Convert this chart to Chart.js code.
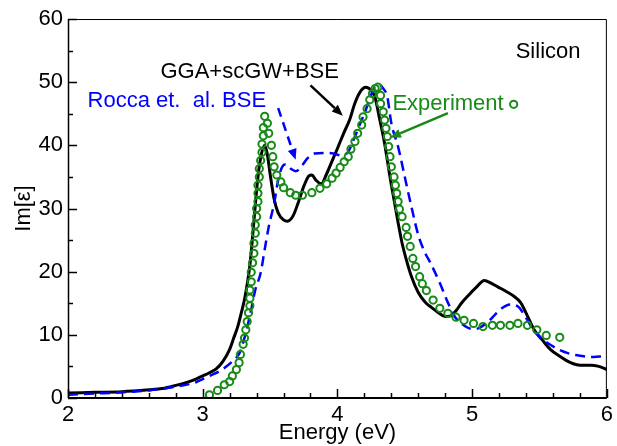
<!DOCTYPE html>
<html>
<head>
<meta charset="utf-8">
<script src="https://cdn.jsdelivr.net/npm/chart.js@4.4.0/dist/chart.umd.min.js"></script>
<style>
  html, body { margin: 0; padding: 0; background: #fff; }
  #wrap { width: 617px; height: 446px; }
</style>
</head>
<body>
<div id="wrap"><canvas id="chart"></canvas></div>
<script>
// GGA+scGW+BSE (黑色實線)
const gwEnergy = [2.0, 2.2, 2.4, 2.6, 2.7, 2.8, 2.9, 2.95, 3.0, 3.05,
    3.1, 3.15, 3.2, 3.23, 3.26, 3.29, 3.31, 3.33, 3.35, 3.37,
    3.39, 3.41, 3.43, 3.46, 3.48, 3.5, 3.53, 3.56, 3.6, 3.63,
    3.67, 3.71, 3.75, 3.79, 3.81, 3.84, 3.88, 3.92, 3.96, 4.0,
    4.05, 4.09, 4.13, 4.17, 4.21, 4.25, 4.28, 4.31, 4.35, 4.39,
    4.42, 4.45, 4.48, 4.51, 4.55, 4.6, 4.65, 4.7, 4.75, 4.8,
    4.84, 4.88, 4.92, 4.97, 5.03, 5.09, 5.14, 5.19, 5.25, 5.31,
    5.36, 5.41, 5.46, 5.52, 5.58, 5.65, 5.73, 5.8, 5.88, 5.94, 6.0];
const gwIm = [0.8, 0.9, 1.0, 1.3, 1.5, 2.0, 2.6, 3.0, 3.5, 4.0,
    4.6, 5.8, 7.7, 9.5, 11.3, 13.8, 15.6, 18, 21, 25.5,
    30.5, 35, 38, 40, 38.5, 35.5, 31.5, 29.3, 28.2, 28.0,
    28.8, 31, 33.5, 35.2, 35.3, 34.5, 33.9, 35.5, 37.5, 39.5,
    42.1, 44, 46.7, 48.5, 49.2, 48.7, 47.5, 44.5, 40.3, 35,
    31.4, 27.8, 24.5, 22, 19.2, 16.7, 15.2, 14.3, 13.5, 12.9,
    13.0, 13.8, 15, 16.2, 17.5, 18.6, 18.2, 17.6, 16.9, 16.1,
    15.1, 13, 10.8, 9.2, 7.7, 6.6, 5.6, 5.2, 5.2, 5.0, 4.5];

// Rocca et. al. BSE (藍色虛線)
const bseEnergy = [2.0, 2.2, 2.4, 2.6, 2.8, 2.9, 2.95, 3.0, 3.06, 3.12,
    3.17, 3.21, 3.25, 3.28, 3.3, 3.32, 3.36, 3.39, 3.43, 3.46,
    3.49, 3.53, 3.56, 3.59, 3.62, 3.66, 3.69, 3.73, 3.78, 3.83,
    3.9, 3.97, 4.03, 4.08, 4.13, 4.17, 4.21, 4.25, 4.28, 4.31,
    4.34, 4.37, 4.4, 4.45, 4.51, 4.55, 4.6, 4.65, 4.69, 4.76,
    4.82, 4.87, 4.92, 4.97, 5.02, 5.07, 5.12, 5.17, 5.22, 5.28,
    5.34, 5.4, 5.46, 5.51, 5.56, 5.63, 5.71, 5.77, 5.83, 5.9, 5.97];
const bseIm = [0.5, 0.7, 0.9, 1.2, 1.8, 2.2, 2.5, 3.0, 3.6, 4.2,
    4.9, 5.6, 6.4, 7.4, 8.8, 10.3, 14.0, 17.1, 19.8, 23.5,
    27.1, 30.8, 34.5, 36.6, 37, 36.2, 35.9, 36.6, 38.0, 38.7,
    38.8, 38.7, 38.4, 39, 41.4, 43.5, 45.6, 48.0, 49.3, 49.6,
    49.0, 47.7, 43.5, 39.8, 34, 30.2, 25.8, 23, 21.4, 18.2,
    15.1, 12.9, 11.8, 11.1, 10.9, 11.3, 12.1, 13.2, 14.2, 14.8,
    14.5, 12.7, 10.6, 9.5, 8.7, 7.8, 7.1, 6.8, 6.6, 6.5, 6.6];

// 實驗值 (綠色圓圈)
const expEnergy = [3.05, 3.11, 3.16, 3.20, 3.22, 3.25, 3.27, 3.28, 3.30, 3.31,
    3.32, 3.33, 3.34, 3.35, 3.35, 3.35, 3.36, 3.36, 3.37, 3.38,
    3.38, 3.39, 3.39, 3.40, 3.40, 3.41, 3.41, 3.41, 3.42, 3.42,
    3.43, 3.44, 3.44, 3.45, 3.45, 3.46, 3.48, 3.49, 3.51, 3.52,
    3.53, 3.55, 3.58, 3.60, 3.65, 3.69, 3.74, 3.81, 3.87, 3.92,
    3.96, 3.99, 4.02, 4.05, 4.08, 4.10, 4.13, 4.15, 4.18, 4.19,
    4.22, 4.24, 4.26, 4.28, 4.30, 4.32, 4.32, 4.34, 4.35, 4.36,
    4.37, 4.38, 4.39, 4.40, 4.42, 4.43, 4.44, 4.45, 4.46, 4.48,
    4.51, 4.52, 4.54, 4.56, 4.58, 4.61, 4.63, 4.66, 4.71, 4.76,
    4.82, 4.88, 4.94, 5.01, 5.08, 5.15, 5.21, 5.28, 5.34, 5.41,
    5.48, 5.55, 5.65];
const expIm = [0.5, 1.2, 2.1, 2.6, 3.5, 4.5, 5.6, 6.9, 8.5, 9.5,
    10.8, 12.1, 13.5, 14.6, 15.8, 17.1, 18.4, 19.9, 21.4, 22.9,
    24.5, 26.1, 27.4, 28.7, 30.0, 31.1, 32.4, 33.7, 35.0, 36.3,
    37.6, 38.9, 40.2, 41.5, 42.8, 44.6, 43.5, 41.9, 40.0, 38.2,
    36.6, 35.3, 34.2, 33.3, 32.5, 32.1, 32.1, 32.5, 33.2, 33.9,
    34.8, 35.6, 36.5, 37.4, 38.2, 39.4, 40.6, 41.9, 43.2, 44.5,
    45.8, 47.2, 48.2, 49.0, 49.2, 47.9, 46.6, 45.3, 44.0, 42.7,
    41.4, 39.8, 38.2, 36.6, 35.0, 33.7, 32.4, 31.1, 29.9, 28.7,
    27.0, 25.6, 24.0, 22.1, 20.8, 19.2, 18.1, 17.0, 15.5, 14.2,
    13.4, 12.8, 12.3, 11.8, 11.3, 11.5, 11.5, 11.5, 11.8, 11.5,
    10.8, 9.9, 9.6];

// 刻度
const xMajorTicks = [2, 3, 4, 5, 6];
const xMinorTicks = [2.2, 2.4, 2.6, 2.8, 3.2, 3.4, 3.6, 3.8, 4.2, 4.4, 4.6, 4.8, 5.2, 5.4, 5.6, 5.8];
const yMajorTicks = [0, 10, 20, 30, 40, 50, 60];
const yMinorTicks = [5, 15, 25, 35, 45, 55];

// 圖上文字與箭頭 (資料座標)
const labels = [
    { text: 'Silicon', x: 5.323, y: 53.9, color: '#000' },
    { text: 'GGA+scGW+BSE', x: 2.686, y: 50.6, color: '#000' },
    { text: 'Rocca et.  al. BSE', x: 2.145, y: 46.0, color: '#0000ff' },
    { text: 'Experiment', x: 4.408, y: 45.55, color: '#178a17' }
];
const arrows = [
    { from: [3.80, 49.5], to: [4.04, 44.7], color: '#000', dash: [] },
    { from: [4.82, 45.1], to: [4.39, 41.2], color: '#178a17', dash: [] },
    { from: [3.56, 45.9], to: [3.69, 37.7], color: '#0000ff', dash: [9, 6] }
];
const expMarker = { x: 5.308, y: 46.5 };

const FONT = 'Liberation Sans, Arial, Helvetica, sans-serif';
const GREEN = '#178a17';
const BLUE = '#0000ff';

const zip = (xs, ys) => xs.map((v, i) => ({ x: v, y: ys[i] }));

const decorations = {
    id: 'decorations',
    afterDatasetsDraw(chart) {
        const { ctx, chartArea: a, scales: { x, y } } = chart;
        ctx.save();

        // 外框
        ctx.strokeStyle = '#000';
        ctx.lineWidth = 1;
        ctx.beginPath();
        ctx.moveTo(a.left, a.top + 0.5);
        ctx.lineTo(a.right - 0.5, a.top + 0.5);
        ctx.lineTo(a.right - 0.5, a.bottom);
        ctx.stroke();
        ctx.lineWidth = 1.5;
        ctx.beginPath();
        ctx.moveTo(a.left + 0.5, a.top);
        ctx.lineTo(a.left + 0.5, a.bottom);
        ctx.stroke();
        ctx.lineWidth = 2;
        ctx.beginPath();
        ctx.moveTo(a.left, a.bottom);
        ctx.lineTo(a.right, a.bottom);
        ctx.stroke();

        // 向內刻度
        ctx.strokeStyle = '#000';
        ctx.lineWidth = 1.5;
        const xTick = (v, len) => {
            const px = Math.round(x.getPixelForValue(v)) + 0.5;
            ctx.beginPath();
            ctx.moveTo(px, a.bottom);
            ctx.lineTo(px, a.bottom - len);
            ctx.stroke();
        };
        const yTick = (v, len) => {
            const py = Math.round(y.getPixelForValue(v)) + 0.5;
            ctx.beginPath();
            ctx.moveTo(a.left, py);
            ctx.lineTo(a.left + len, py);
            ctx.stroke();
        };
        xMajorTicks.forEach(v => xTick(v, 9));
        xMinorTicks.forEach(v => xTick(v, 5));
        yMajorTicks.forEach(v => yTick(v, 9));
        yMinorTicks.forEach(v => yTick(v, 5));

        // 箭頭
        arrows.forEach(ar => {
            const x0 = x.getPixelForValue(ar.from[0]);
            const y0 = y.getPixelForValue(ar.from[1]);
            const x1 = x.getPixelForValue(ar.to[0]);
            const y1 = y.getPixelForValue(ar.to[1]);
            const ang = Math.atan2(y1 - y0, x1 - x0);
            const headLen = 11, headW = 4.5;
            const bx = x1 - headLen * Math.cos(ang);
            const by = y1 - headLen * Math.sin(ang);
            ctx.strokeStyle = ar.color;
            ctx.fillStyle = ar.color;
            ctx.lineWidth = 2.5;
            ctx.setLineDash(ar.dash);
            ctx.beginPath();
            ctx.moveTo(x0, y0);
            ctx.lineTo(bx, by);
            ctx.stroke();
            ctx.setLineDash([]);
            ctx.beginPath();
            ctx.moveTo(x1, y1);
            ctx.lineTo(bx + headW * Math.sin(ang), by - headW * Math.cos(ang));
            ctx.lineTo(bx - headW * Math.sin(ang), by + headW * Math.cos(ang));
            ctx.closePath();
            ctx.fill();
        });

        // 文字
        ctx.font = '22px ' + FONT;
        ctx.textAlign = 'left';
        ctx.textBaseline = 'alphabetic';
        labels.forEach(l => {
            ctx.fillStyle = l.color;
            ctx.fillText(l.text, x.getPixelForValue(l.x), y.getPixelForValue(l.y));
        });

        // 圖例小圓圈
        ctx.strokeStyle = GREEN;
        ctx.lineWidth = 2;
        ctx.beginPath();
        ctx.arc(x.getPixelForValue(expMarker.x), y.getPixelForValue(expMarker.y), 3.6, 0, Math.PI * 2);
        ctx.stroke();

        ctx.restore();
    }
};

new Chart(document.getElementById('chart'), {
    type: 'scatter',
    data: {
        datasets: [
            {
                label: 'Experiment',
                data: zip(expEnergy, expIm),
                showLine: false,
                pointStyle: 'circle',
                pointRadius: 3.6,
                pointBorderWidth: 2,
                borderColor: GREEN,
                backgroundColor: 'rgba(0,0,0,0)',
                order: 0
            },
            {
                label: 'Rocca et. al. BSE',
                data: zip(bseEnergy, bseIm),
                showLine: true,
                borderColor: BLUE,
                borderWidth: 2.5,
                borderDash: [10, 6],
                pointRadius: 0,
                cubicInterpolationMode: 'monotone',
                order: 1
            },
            {
                label: 'GGA+scGW+BSE',
                data: zip(gwEnergy, gwIm),
                showLine: true,
                borderColor: '#000',
                borderWidth: 3,
                pointRadius: 0,
                cubicInterpolationMode: 'monotone',
                order: 2
            }
        ]
    },
    options: {
        animation: false,
        responsive: true,
        maintainAspectRatio: false,
        layout: { padding: { top: 19, right: 8, left: 0, bottom: 0 } },
        plugins: {
            legend: { display: false },
            tooltip: { enabled: false }
        },
        scales: {
            x: {
                type: 'linear',
                min: 2,
                max: 6,
                afterFit(s) { s.height = 48; },
                grid: { display: false, drawTicks: false },
                border: { display: false },
                ticks: {
                    stepSize: 1,
                    padding: 4,
                    maxRotation: 0,
                    color: '#000',
                    font: { family: FONT, size: 22 }
                },
                title: {
                    display: true,
                    text: 'Energy (eV)',
                    color: '#000',
                    font: { family: FONT, size: 22 },
                    padding: 0
                }
            },
            y: {
                min: 0,
                max: 60,
                afterFit(s) { s.width = 68; },
                grid: { display: false, drawTicks: false },
                border: { display: false },
                ticks: {
                    stepSize: 10,
                    padding: 5,
                    color: '#000',
                    font: { family: FONT, size: 22 }
                },
                title: {
                    display: true,
                    text: 'Im[ε]',
                    color: '#000',
                    font: { family: FONT, size: 22 },
                    padding: { top: 11, bottom: 0 }
                }
            }
        }
    },
    plugins: [decorations]
});
</script>
</body>
</html>
